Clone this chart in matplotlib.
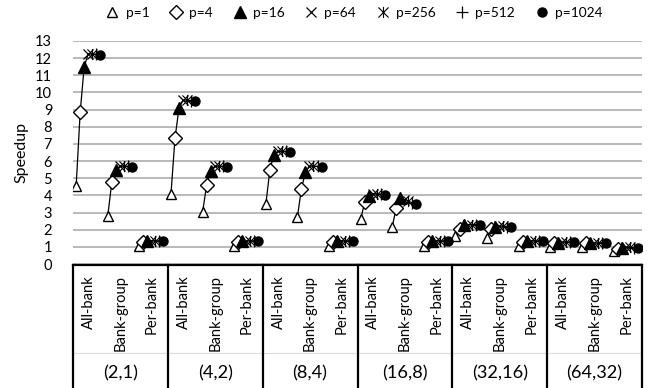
import numpy as np
import matplotlib
matplotlib.use('Agg')
import matplotlib.pyplot as plt
from matplotlib.path import Path
from matplotlib.lines import Line2D
import matplotlib.transforms as mtrans

plt.rcParams['font.family'] = ['Lato', 'DejaVu Sans']

groups = ['(2,1)', '(4,2)', '(8,4)', '(16,8)', '(32,16)', '(64,32)']
schemes = ['All-bank', 'Bank-group', 'Per-bank']
series = ['p=1', 'p=4', 'p=16', 'p=64', 'p=256', 'p=512', 'p=1024']

# speedup per category (group x scheme), one list per p
p1 = [4.55, 2.80, 1.05, 4.10, 3.03, 1.05, 3.48, 2.76, 1.05, 2.60, 2.18, 1.05, 1.65, 1.54, 1.06, 1.00, 1.00, 0.77]
p4 = [8.85, 4.77, 1.30, 7.35, 4.60, 1.30, 5.47, 4.40, 1.30, 3.60, 3.28, 1.30, 2.04, 2.06, 1.29, 1.20, 1.20, 0.90]
p16 = [11.50, 5.47, 1.32, 9.10, 5.41, 1.32, 6.38, 5.35, 1.32, 3.96, 3.82, 1.32, 2.25, 2.18, 1.33, 1.25, 1.20, 0.96]
p64 = [12.25, 5.70, 1.35, 9.55, 5.70, 1.35, 6.57, 5.70, 1.35, 4.10, 3.72, 1.35, 2.30, 2.20, 1.35, 1.28, 1.22, 0.97]
p256 = [12.25, 5.70, 1.35, 9.55, 5.70, 1.35, 6.57, 5.70, 1.35, 4.10, 3.65, 1.35, 2.30, 2.20, 1.35, 1.28, 1.23, 0.97]
p512 = [12.22, 5.69, 1.35, 9.52, 5.69, 1.35, 6.56, 5.69, 1.35, 4.07, 3.58, 1.35, 2.30, 2.18, 1.35, 1.29, 1.24, 0.96]
p1024 = [12.20, 5.68, 1.35, 9.50, 5.68, 1.35, 6.55, 5.68, 1.35, 4.05, 3.51, 1.35, 2.30, 2.16, 1.35, 1.29, 1.25, 0.96]
data = [p1, p4, p16, p64, p256, p512, p1024]

star = Path([(-1, -1), (1, 1), (-1, 1), (1, -1), (0, -1.1), (0, 1.1)],
            [Path.MOVETO, Path.LINETO] * 3)
styles = [
    dict(marker='^', mfc='white', mec='black', ms=7),
    dict(marker='D', mfc='white', mec='black', ms=7),
    dict(marker='^', mfc='black', mec='black', ms=8),
    dict(marker='x', mfc='none', mec='black', ms=7, mew=0.9),
    dict(marker=star, mfc='none', mec='black', ms=8, mew=0.8),
    dict(marker='+', mfc='none', mec='black', ms=8, mew=0.9),
    dict(marker='o', mfc='black', mec='black', ms=6.5),
]

W, H = 651, 388
fig = plt.figure(figsize=(W / 100, H / 100), dpi=100)
rend = fig.canvas.get_renderer()


def fit_size(txt, target_px):
    # font size giving the wanted text length in pixels
    t = fig.text(0, 0, txt, fontsize=10)
    w = t.get_window_extent(rend).width
    t.remove()
    return 10 * target_px / w


tick_fs = fit_size('13', 17)
ylab_fs = fit_size('Speedup', 62)
cat_fs = fit_size('Bank-group', 76)
grp_fs = fit_size('(2,1)', 35)
leg_fs = fit_size('p=1024', 48)

ax = fig.add_axes([73 / W, (H - 264) / H, (642 - 73) / W, (264 - 41) / H])

n = len(p1)
offs = -0.4 + 0.127 * np.arange(len(series))
vals = np.array(data)
for i in range(n):
    ax.plot(i + offs, vals[:, i], color='black', lw=0.9, zorder=2)
handles = []
for k, name in enumerate(series):
    h, = ax.plot(np.arange(n) + offs[k], data[k], ls='none', label=name,
                 zorder=3 + k, **styles[k])
    handles.append(h)

ax.set_xlim(-0.5, n - 0.5)
ax.set_ylim(0, 13)
ax.set_yticks(range(14))
ax.set_xticks([])
ax.yaxis.grid(True, color='#a6a6a6', lw=1.1)
ax.set_axisbelow(True)
for s in ax.spines.values():
    s.set_visible(False)
ax.tick_params(axis='y', length=0, pad=15, labelsize=tick_fs)
ax.set_ylabel('Speedup', fontsize=ylab_fs)
ax.yaxis.set_label_coords(-45 / (642 - 73), 0.5)

# multi-level category box below the plot
tr = mtrans.blended_transform_factory(ax.transData, fig.transFigure)
ytop = (H - 265) / H
ax.add_line(Line2D([-0.5, n - 0.5], [(H - 353) / H] * 2, transform=tr,
                   color='#dcdcdc', lw=0.8, clip_on=False))
ax.add_line(Line2D([-0.5, n - 0.5], [ytop, ytop], transform=tr, color='black',
                   lw=1.6, clip_on=False))
for g in range(len(groups) + 1):
    x = -0.5 + 3 * g
    ax.add_line(Line2D([x, x], [ytop, 0], transform=tr, color='black',
                       lw=1.6, clip_on=False))
for g, gname in enumerate(groups):
    for j, sname in enumerate(schemes):
        ax.text(3 * g + j, (H - 275) / H, sname, rotation=90, ha='center',
                va='top', fontsize=cat_fs, transform=tr)
    ax.text(3 * g + 1, (H - 373) / H, gname, ha='center', va='center',
            fontsize=grp_fs, transform=tr)

# legend spanning x = 106..603 px in the reference
leg_kw = dict(loc='center', bbox_to_anchor=(354 / W, (H - 13) / H), ncol=7,
              frameon=False, fontsize=leg_fs, handlelength=1.0,
              handletextpad=0.45, borderaxespad=0, borderpad=0)
leg = fig.legend(handles=handles, columnspacing=0, **leg_kw)
w0 = leg.get_window_extent(rend).width
leg.remove()
cs = max(0.3, (497 - w0) / (6 * leg_fs * 100 / 72))
fig.legend(handles=handles, columnspacing=cs, **leg_kw)

fig.savefig('out.png', dpi=100)
